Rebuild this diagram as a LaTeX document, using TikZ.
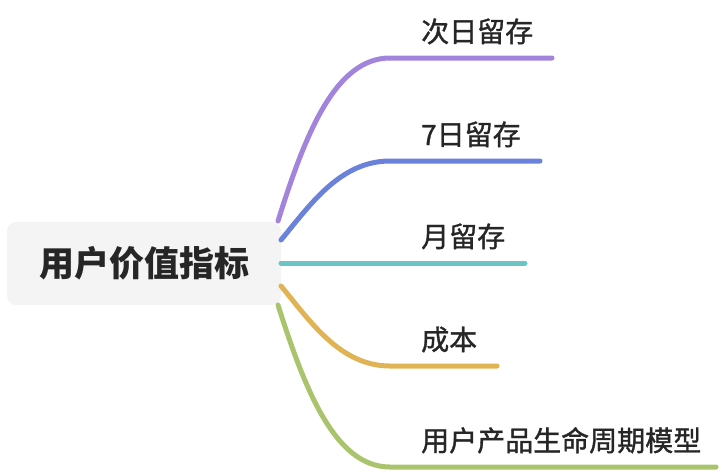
\documentclass[tikz,border=0pt]{standalone}
\usepackage{fontspec}
\setmainfont{Noto Sans CJK SC}
\newfontfamily\cjkmid[FakeBold=1.2]{Noto Sans CJK SC}
\definecolor{cpurple}{HTML}{A284DC}
\definecolor{cblue}{HTML}{6B82DA}
\definecolor{cteal}{HTML}{6CC5C3}
\definecolor{cgold}{HTML}{E0B354}
\definecolor{cgreen}{HTML}{A9C46C}
\definecolor{rootfill}{HTML}{F4F4F4}
\definecolor{txt}{HTML}{262626}
\begin{document}
\begin{tikzpicture}[x=1pt,y=-1pt,
  rootbox/.style={fill=rootfill,rounded corners=9pt,minimum width=274pt,minimum height=83pt,inner sep=0pt,text=txt,font=\fontsize{35}{40}\selectfont\bfseries},
  childtext/.style={anchor=base west,inner sep=0pt,text=txt,font=\fontsize{28}{32}\selectfont\cjkmid},
  branch/.style={line width=5pt,line cap=round}]
\useasboundingbox (0,0) rectangle (722,472);
\node[rootbox] (root) at (144,263.5) {用户价值指标};
\coordinate (r1) at (278,221);
\coordinate (r2) at (281,240);
\coordinate (r3) at (281,263);
\coordinate (r4) at (281,286);
\coordinate (r5) at (278,305);
\coordinate (e1) at (552,58);
\coordinate (e2) at (540,161);
\coordinate (e3) at (525,263);
\coordinate (e4) at (497,366);
\coordinate (e5) at (716,467);
\node[childtext] (c1) at (421,42) {次日留存};
\node[childtext] (c2) at (421,145) {7日留存};
\node[childtext] (c3) at (421,247) {月留存};
\node[childtext] (c4) at (421,350) {成本};
\node[childtext] (c5) at (421,451) {用户产品生命周期模型};
\draw[branch,cpurple] (r1) .. controls (305,135) and (335,58) .. (390,58) -- (e1);
\draw[branch,cblue] (r2) .. controls (310,205) and (340,161) .. (390,161) -- (e2);
\draw[branch,cteal] (r3) -- (e3);
\draw[branch,cgold] (r4) .. controls (310,321) and (340,366) .. (390,366) -- (e4);
\draw[branch,cgreen] (r5) .. controls (305,390) and (335,467) .. (390,467) -- (e5);
\end{tikzpicture}
\end{document}
